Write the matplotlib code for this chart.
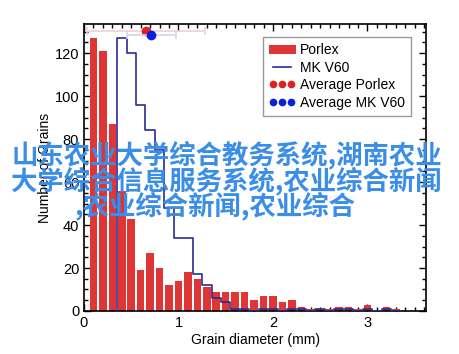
import matplotlib
matplotlib.use("Agg")
import matplotlib.pyplot as plt
import numpy as np
from matplotlib.patches import Patch
from matplotlib.lines import Line2D
from matplotlib.ticker import MultipleLocator

plt.rcParams['font.family'] = ['Liberation Sans', 'DejaVu Sans']

# Porlex histogram (bar centres in mm, counts)
porlex_centers = [0.1, 0.2, 0.3, 0.4, 0.5, 0.6, 0.7, 0.8, 0.9, 1.0, 1.1, 1.2, 1.3, 1.4, 1.5,
                  1.6, 1.7, 1.8, 1.9, 2.0, 2.1, 2.2, 2.3, 2.4, 2.5, 2.6, 2.7, 2.8, 2.9, 3.0,
                  3.1, 3.2, 3.3]
porlex_counts = [127, 121, 87, 56, 43, 19, 27, 20, 12, 14, 18, 15, 11, 9, 9,
                 9, 9, 5, 7, 7, 4, 5, 2, 1, 1, 1, 2, 2, 1, 3,
                 0, 2, 1]

# MK V60 step histogram (bin edges in mm, counts)
mk_edges = [0.35, 0.45, 0.55, 0.65, 0.75, 0.85, 0.95, 1.05, 1.15, 1.25, 1.35, 1.45, 1.55,
            1.65, 1.75, 1.85, 1.95, 2.05, 2.15, 2.25, 2.35, 2.45, 2.55, 2.65, 2.75, 2.85,
            2.95, 3.05, 3.15, 3.25, 3.35]
mk_counts = [127, 120, 96, 84, 75, 48, 34, 34, 17, 12, 6, 4,
             1, 1, 0, 1, 1, 0, 1, 1, 0, 1, 0, 1, 1, 0, 1, 0, 1, 0]

# Averages with spread
avg_porlex = 0.656
err_porlex = 0.62
avg_porlex_y = 130.2
avg_mk = 0.71
err_mk = 0.26
avg_mk_y = 128.4

fig = plt.figure(figsize=(4.6, 3.54), dpi=100)
ax = fig.add_axes([0.1826, 0.1215, 0.7435, 0.8105])

ax.bar(porlex_centers, porlex_counts, width=0.08, color='#e03535', edgecolor='none', zorder=2)

xs = [mk_edges[0]]
ys = [0]
for i, c in enumerate(mk_counts):
    xs += [mk_edges[i], mk_edges[i + 1]]
    ys += [c, c]
xs.append(mk_edges[-1])
ys.append(0)
ax.plot(xs, ys, color='#2b2b95', lw=1.2, zorder=3)

ax.errorbar([avg_porlex], [avg_porlex_y], xerr=[err_porlex], fmt='o', color='#e02020',
            ecolor='#f2d0d4', elinewidth=1.2, capsize=3, capthick=1.2, markersize=6, zorder=4)
ax.errorbar([avg_mk], [avg_mk_y], xerr=[err_mk], fmt='o', color='#0a1ee0',
            ecolor='#d6d6e6', elinewidth=1.2, capsize=3, capthick=1.2, markersize=6, zorder=5)

ax.set_xlim(0, 3.62)
ax.set_ylim(0, 133.5)
ax.xaxis.set_major_locator(MultipleLocator(1))
ax.xaxis.set_minor_locator(MultipleLocator(0.1))
ax.yaxis.set_major_locator(MultipleLocator(20))
ax.yaxis.set_minor_locator(MultipleLocator(5))
ax.tick_params(which='both', direction='in', top=True, right=True, labelsize=10.5, width=1)
ax.tick_params(which='major', length=5)
ax.tick_params(which='minor', length=3)
for s in ax.spines.values():
    s.set_linewidth(1.2)
ax.set_xlabel('Grain diameter (mm)', fontsize=10, labelpad=2)
ax.set_ylabel('Number of Grains', fontsize=10, labelpad=2)

handles = [Patch(facecolor='#e03535', edgecolor='none'),
           Line2D([], [], color='#2b2b95', lw=1.2),
           Line2D([], [], color='#e02020', marker='o', ls='none', markersize=4.5),
           Line2D([], [], color='#0a1ee0', marker='o', ls='none', markersize=4.5)]
labels = ['Porlex', 'MK V60', 'Average Porlex', 'Average MK V60']
leg = ax.legend(handles, labels, loc='upper right', bbox_to_anchor=(0.956, 0.955),
                borderaxespad=0, numpoints=3, fontsize=10, fancybox=False,
                handlelength=1.9, handletextpad=0.3, labelspacing=0.25, borderpad=0.45,
                framealpha=1)
leg.get_frame().set_edgecolor('#999999')
leg.get_frame().set_linewidth(1.0)

cjk = ['Noto Sans CJK SC', 'DejaVu Sans']
wm_lines = ['山东农业大学综合教务系统,湖南农业',
            '大学综合信息服务系统,农业综合新闻',
            ',农业综合新闻,农业综合']
wm_y = [155, 181, 206]
wm_x = [227, 226, 215]
for t, xp, yp in zip(wm_lines, wm_x, wm_y):
    fig.text(xp / 460, 1 - yp / 354, t, family=cjk, fontsize=19, fontweight='bold',
             color='#3a8ee8', ha='center', va='center', zorder=10)

fig.savefig('out.png', dpi=100)
